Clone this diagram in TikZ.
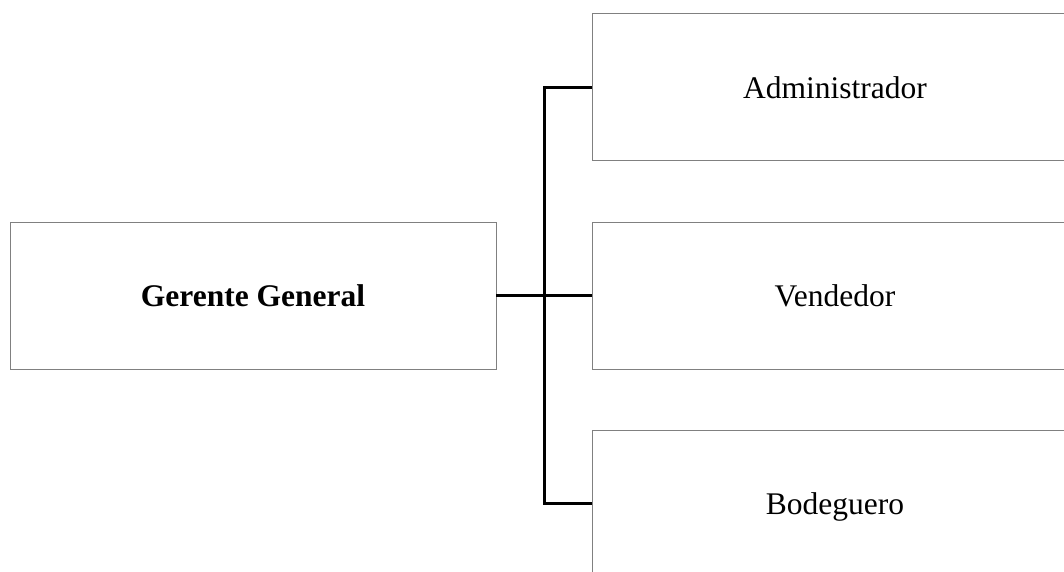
\documentclass[tikz,border=0pt]{standalone}
\usepackage{fontspec}
\setmainfont{Liberation Serif}
\usetikzlibrary{
  positioning     % places the boxes next to each other
}
\tikzset{
  x=1pt, y=1pt,
  node distance=61pt and 96pt,
  every node/.style = {
    rectangle,
    minimum width=486pt,
    minimum height=147pt,
    text height=21.5pt,
    text depth=0pt,
    draw=black!50,
    line width=1pt,
    outer sep=0pt,
    inner sep=3pt,
    font=\fontsize{31.5}{38}\selectfont
  },
  boss/.append style = {font=\fontsize{31.5}{38}\selectfont\bfseries},
  staff/.append style = {},
  conn/.style = {draw=black, line width=3pt}
}

\begin{document}
\begin{tikzpicture}

  \useasboundingbox (0,0) rectangle (1064,-572);
  \clip (0,0) rectangle (1064,-572);

  %% nodes
  \node[boss] (GG) at (253,-295.5) {Gerente General};

  \node[staff] (VEN) [right=of GG] {Vendedor};
  \node[staff] (ADM) [above=of VEN] {Administrador};
  \node[staff] (BOD) [below=of VEN] {Bodeguero};

  \coordinate[right=48pt of GG.east] (J);

  %% lines
  \draw[conn] (GG.east) -- (VEN.west);
  \draw[conn] (ADM.west) -| (J) |- (BOD.west);

\end{tikzpicture}
\end{document}
